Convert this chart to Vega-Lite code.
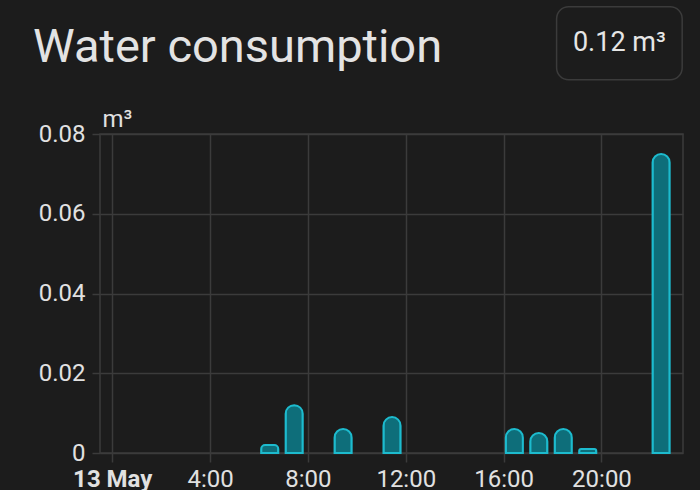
{
  "$schema": "https://vega.github.io/schema/vega-lite/v6.json",
  "width": 583,
  "height": 319,
  "autosize": "none",
  "padding": {"left": 100, "top": 134, "right": 17, "bottom": 37},
  "background": "#1c1c1c",
  "title": {
    "text": "Water consumption",
    "anchor": "start",
    "frame": "group",
    "dx": -67,
    "offset": -103,
    "baseline": "alphabetic",
    "fontSize": 47,
    "fontWeight": "normal",
    "font": "Roboto",
    "color": "#e3e3e3"
  },
  "config": {
    "font": "Roboto",
    "view": {"stroke": "#3b3b3b", "strokeWidth": 1.5},
    "axis": {
      "gridColor": "#3b3b3b",
      "gridWidth": 1.5,
      "tickColor": "#3b3b3b",
      "tickWidth": 1.5,
      "domain": false,
      "labelColor": "#e1e1e1",
      "labelFontSize": 24,
      "labelFont": "Roboto",
      "titleColor": "#e1e1e1",
      "titleFont": "Roboto"
    }
  },
  "layer": [
    {
      "data": {
        "values": [
          {"time": "2024-05-13T06:00:00", "value": 0.002},
          {"time": "2024-05-13T07:00:00", "value": 0.012},
          {"time": "2024-05-13T09:00:00", "value": 0.006},
          {"time": "2024-05-13T11:00:00", "value": 0.009},
          {"time": "2024-05-13T16:00:00", "value": 0.006},
          {"time": "2024-05-13T17:00:00", "value": 0.005},
          {"time": "2024-05-13T18:00:00", "value": 0.006},
          {"time": "2024-05-13T19:00:00", "value": 0.001},
          {"time": "2024-05-13T22:00:00", "value": 0.075}
        ]
      },
      "mark": {
        "type": "bar",
        "fill": "#0e6e7a",
        "stroke": "#1dbbce",
        "strokeWidth": 2,
        "cornerRadiusTopLeft": 9,
        "cornerRadiusTopRight": 9,
        "width": {"band": 0.74},
        "xOffset": -2
      },
      "encoding": {
        "x": {
          "field": "time",
          "type": "temporal",
          "timeUnit": "yearmonthdatehours",
          "scale": {
            "domain": [
              {"year": 2024, "month": 5, "date": 12, "hours": 23, "minutes": 30},
              {"year": 2024, "month": 5, "date": 13, "hours": 23, "minutes": 20}
            ]
          },
          "axis": {
            "title": null,
            "values": [
              {"year": 2024, "month": 5, "date": 13, "hours": 0},
              {"year": 2024, "month": 5, "date": 13, "hours": 4},
              {"year": 2024, "month": 5, "date": 13, "hours": 8},
              {"year": 2024, "month": 5, "date": 13, "hours": 12},
              {"year": 2024, "month": 5, "date": 13, "hours": 16},
              {"year": 2024, "month": 5, "date": 13, "hours": 20}
            ],
            "labelExpr": "hours(datum.value) == 0 ? timeFormat(datum.value, '%-d %b') : timeFormat(datum.value, '%-H:%M')",
            "labelFontWeight": {"condition": {"test": "hours(datum.value) == 0", "value": "bold"}, "value": "normal"},
            "tickSize": 9,
            "labelPadding": 5,
            "labelFlush": false,
            "labelOverlap": false
          }
        },
        "y": {
          "field": "value",
          "type": "quantitative",
          "scale": {"domain": [0, 0.08], "nice": false},
          "axis": {
            "title": "m³",
            "titleAngle": 0,
            "titleAlign": "left",
            "titleBaseline": "alphabetic",
            "titleX": 2,
            "titleY": -8,
            "titleFontSize": 24,
            "titleFontWeight": "normal",
            "values": [0, 0.02, 0.04, 0.06, 0.08],
            "format": "~g",
            "tickSize": 8,
            "labelPadding": 7
          }
        }
      }
    },
    {
      "data": {"values": [{"label": "0.12 m³"}]},
      "mark": {
        "type": "rect",
        "clip": false,
        "fill": "#1c1c1c",
        "fillOpacity": 0,
        "stroke": "#3b3b3b",
        "strokeWidth": 1.5,
        "cornerRadius": 12
      },
      "encoding": {
        "x": {"datum": {"year": 2024, "month": 5, "date": 13, "hours": 18, "minutes": 10}, "type": "temporal"},
        "x2": {"datum": {"year": 2024, "month": 5, "date": 13, "hours": 23, "minutes": 18}},
        "y": {"datum": 0.1119, "type": "quantitative"},
        "y2": {"datum": 0.0936}
      }
    },
    {
      "data": {"values": [{"label": "0.12 m³"}]},
      "mark": {
        "type": "text",
        "clip": false,
        "font": "Roboto",
        "fontSize": 27,
        "color": "#e6e6e6",
        "align": "center",
        "baseline": "middle"
      },
      "encoding": {
        "text": {"field": "label"},
        "x": {"datum": {"year": 2024, "month": 5, "date": 13, "hours": 20, "minutes": 44}, "type": "temporal"},
        "y": {"datum": 0.1028, "type": "quantitative"}
      }
    }
  ]
}
